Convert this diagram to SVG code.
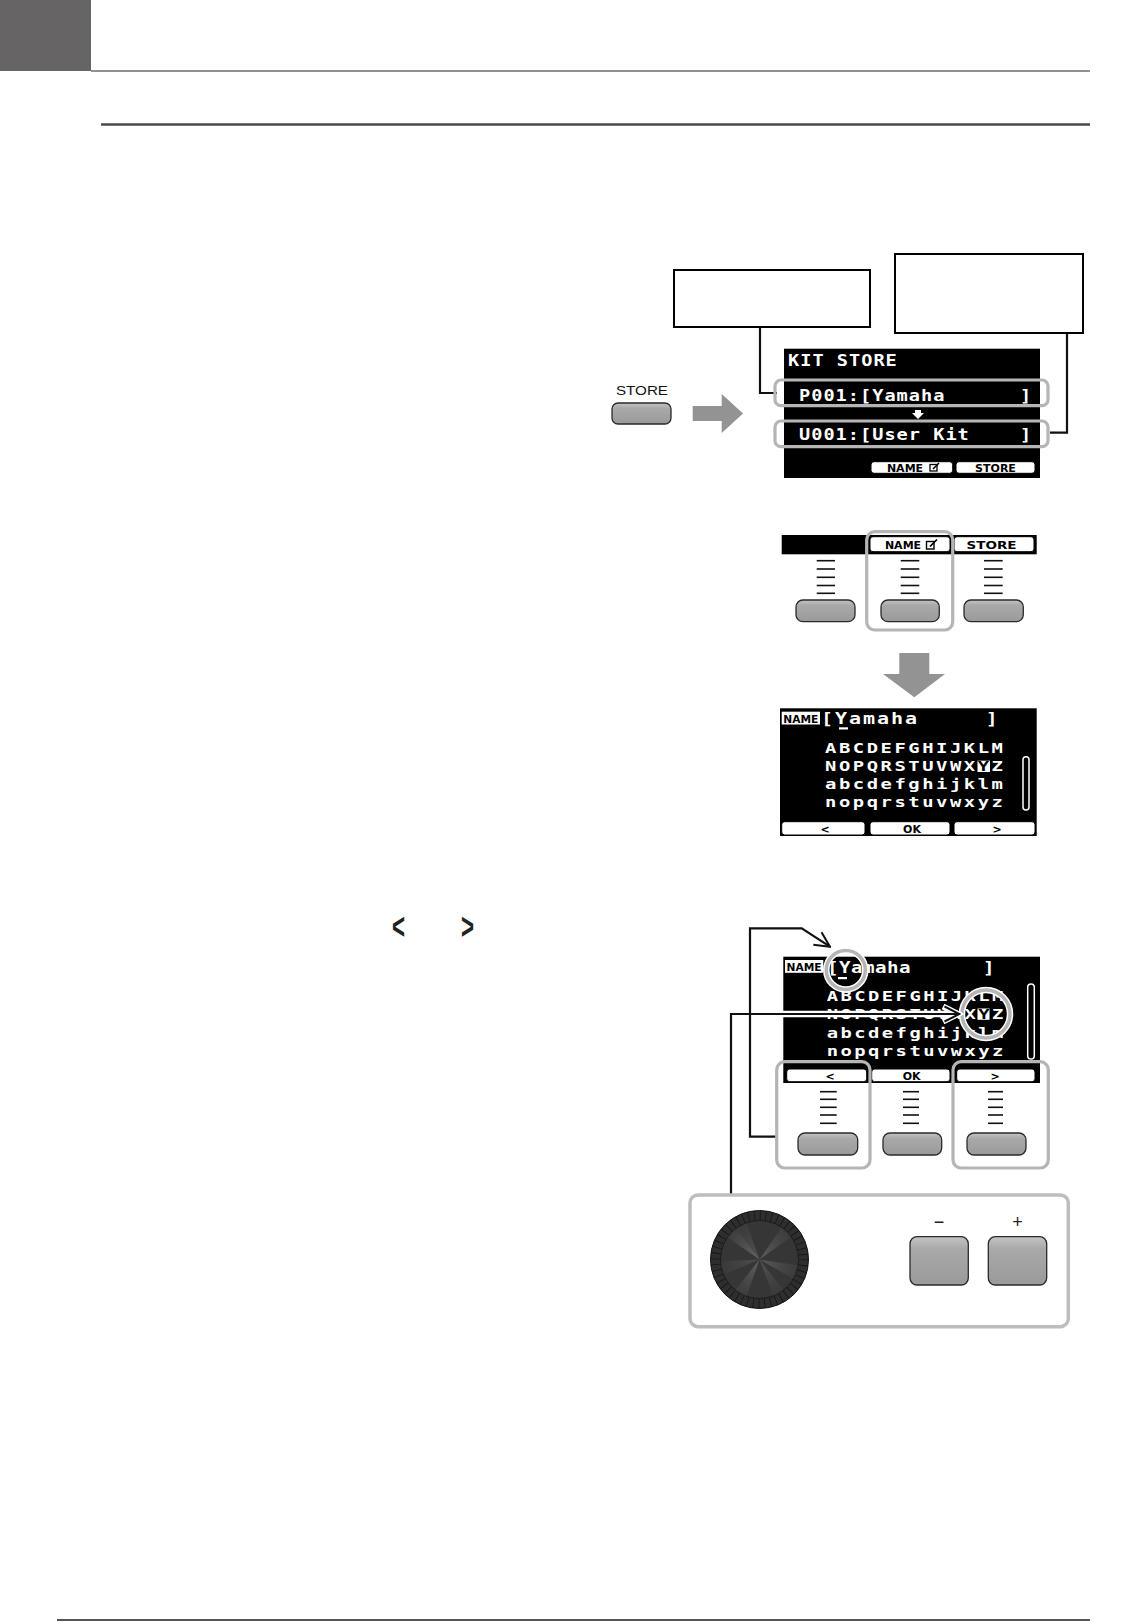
<svg xmlns="http://www.w3.org/2000/svg" width="1134" height="1622" viewBox="0 0 1134 1622">
<defs>
<style>
.lcd{font-family:"DejaVu Sans Mono","Liberation Mono",monospace;fill:#fff;font-weight:bold;}
.tab{fill:#fff;stroke:#000;stroke-width:1;}
.tabt{font-family:"DejaVu Sans","Liberation Sans",sans-serif;font-weight:bold;font-size:11px;fill:#000;text-anchor:middle;}
.hl{fill:none;stroke:#b5b5b5;stroke-width:3.2;}
.btn{fill:url(#btng);stroke:#2a2a2a;stroke-width:1.3;}
.tick{stroke:#111;stroke-width:1.6;}
.conn{fill:none;stroke:#111;stroke-width:2.2;}
.box{fill:#fff;stroke:#000;stroke-width:2;}
.garrow{fill:#939393;}
.scr{fill:#000;}
</style>
<linearGradient id="btng" x1="0" y1="0" x2="0" y2="1">
<stop offset="0" stop-color="#c4c4c4"/>
<stop offset="0.25" stop-color="#a9a9a9"/>
<stop offset="1" stop-color="#9a9a9a"/>
</linearGradient>
<radialGradient id="wedge" cx="759.5" cy="1259.5" r="39" gradientUnits="userSpaceOnUse">
<stop offset="0" stop-color="#aaa" stop-opacity="0.7"/>
<stop offset="1" stop-color="#888" stop-opacity="0.15"/>
</radialGradient>
<clipPath id="dialclip"><circle cx="759.5" cy="1259.5" r="39"/></clipPath>
<marker id="chev" viewBox="0 0 18 18" refX="16.5" refY="9" markerWidth="18" markerHeight="18" markerUnits="userSpaceOnUse" orient="auto">
<path d="M1.5,1.5 L16.5,9 L1.5,16.5" fill="none" stroke="#111" stroke-width="2"/>
</marker>
</defs>
<rect width="1134" height="1622" fill="#fff"/>

<g id="page-header">
<rect x="0" y="0" width="91" height="71" fill="#666464"/>
<line x1="91" y1="71" x2="1090" y2="71" stroke="#6b6b6b" stroke-width="1.5"/>
<line x1="101" y1="124.5" x2="1090" y2="124.5" stroke="#4a4a4a" stroke-width="2.5"/>
<line x1="57" y1="1620" x2="1090" y2="1620" stroke="#555" stroke-width="1.8"/>
</g>

<g id="chevrons-text">
<text x="0" y="0" transform="translate(392,939) scale(0.62,1)" font-family="Liberation Sans,Arial,sans-serif" font-weight="bold" font-size="36" fill="#222">&lt;</text>
<text x="0" y="0" transform="translate(461,939) scale(0.62,1)" font-family="Liberation Sans,Arial,sans-serif" font-weight="bold" font-size="36" fill="#222">&gt;</text>
</g>

<g id="connectors">
<path class="conn" d="M760,327 V393 H777"/>
<path class="conn" d="M1067,333 V432.7 H1050"/>
<path class="conn" d="M776.7,1136.7 H750 V928.3 H801.7 L830,946.7" marker-end="url(#chev)"/>
</g>

<g id="callout-box-1"><rect class="box" x="674" y="270" width="196" height="57"/></g>
<g id="callout-box-2"><rect class="box" x="895" y="254" width="188" height="79"/></g>

<g id="store-button">
<text x="642" y="395" font-family="Liberation Sans,Arial,sans-serif" font-size="13" text-anchor="middle" fill="#111" textLength="52" lengthAdjust="spacingAndGlyphs">STORE</text>
<rect class="btn" x="612" y="403" width="59" height="21" rx="6"/>
</g>

<g id="arrow-right">
<polygon class="garrow" points="692.7,406 721.7,406 721.7,394 743,413.5 721.7,433 721.7,421 692.7,421"/>
</g>

<g id="screen-kit-store">
<rect class="scr" x="784" y="348.7" width="256" height="129.3"/>
<text class="lcd" x="0" y="0" transform="translate(788,366) scale(1.2,1)" font-size="15.5" letter-spacing="0.84">KIT STORE</text>
<text class="lcd" x="0" y="0" transform="translate(799,401) scale(1.2,1)" font-size="15.5" letter-spacing="0.84">P001:[Yamaha</text>
<text class="lcd" x="0" y="0" transform="translate(1020,401) scale(1.2,1)" font-size="15.5">]</text>
<polygon points="915,410 921,410 921,413 924,413 918,419 912,413 915,413" fill="#fff"/>
<text class="lcd" x="0" y="0" transform="translate(799,440) scale(1.2,1)" font-size="15.5" letter-spacing="0.84">U001:[User Kit</text>
<text class="lcd" x="0" y="0" transform="translate(1020,440) scale(1.2,1)" font-size="15.5">]</text>
<rect class="tab" x="871" y="461.7" width="81.7" height="11.6" rx="3"/>
<text class="tabt" x="905" y="471.6" font-size="10.5">NAME</text>
<rect x="930" y="464.5" width="7" height="6.5" fill="none" stroke="#000" stroke-width="1.3"/>
<line x1="933" y1="469" x2="939" y2="463" stroke="#000" stroke-width="1.6"/>
<rect class="tab" x="956" y="461.7" width="79" height="11.6" rx="3"/>
<text class="tabt" x="995.5" y="471.6" font-size="10.5">STORE</text>
<rect class="hl" x="775" y="380" width="273" height="25.7" rx="6"/>
<rect class="hl" x="775" y="421" width="273" height="25.7" rx="6"/>
</g>

<g id="softkeys-1">
<rect class="scr" x="781.7" y="535" width="255" height="19.3"/>
<rect class="tab" x="870" y="536.7" width="80" height="15" rx="3"/>
<text class="tabt" x="903" y="548.6" font-size="11.5">NAME</text>
<rect x="926.5" y="541.5" width="7.5" height="7.5" fill="none" stroke="#000" stroke-width="1.4"/>
<line x1="930" y1="546.5" x2="937" y2="539.5" stroke="#000" stroke-width="1.7"/>
<rect class="tab" x="954" y="536.7" width="80" height="15" rx="3"/>
<text class="tabt" x="991.5" y="548.6" font-size="11.5" textLength="50" lengthAdjust="spacingAndGlyphs">STORE</text>
<g>
<line class="tick" x1="816.7" y1="560.7" x2="835" y2="560.7"/><line class="tick" x1="816.7" y1="569" x2="835" y2="569"/><line class="tick" x1="816.7" y1="577.3" x2="835" y2="577.3"/><line class="tick" x1="816.7" y1="585.5" x2="835" y2="585.5"/><line class="tick" x1="816.7" y1="593.3" x2="835" y2="593.3"/>
<line class="tick" x1="900.7" y1="560.7" x2="919.3" y2="560.7"/><line class="tick" x1="900.7" y1="569" x2="919.3" y2="569"/><line class="tick" x1="900.7" y1="577.3" x2="919.3" y2="577.3"/><line class="tick" x1="900.7" y1="585.5" x2="919.3" y2="585.5"/><line class="tick" x1="900.7" y1="593.3" x2="919.3" y2="593.3"/>
<line class="tick" x1="984" y1="560.7" x2="1002.7" y2="560.7"/><line class="tick" x1="984" y1="569" x2="1002.7" y2="569"/><line class="tick" x1="984" y1="577.3" x2="1002.7" y2="577.3"/><line class="tick" x1="984" y1="585.5" x2="1002.7" y2="585.5"/><line class="tick" x1="984" y1="593.3" x2="1002.7" y2="593.3"/>
</g>
<rect class="btn" x="796" y="600" width="59" height="21.7" rx="7"/>
<rect class="btn" x="881" y="600" width="58.3" height="21.7" rx="7"/>
<rect class="btn" x="964" y="600" width="59.3" height="21.7" rx="7"/>
<rect class="hl" x="866.7" y="531.7" width="86" height="98.3" rx="8"/>
</g>

<g id="arrow-down">
<polygon class="garrow" points="899.3,653 929.3,653 929.3,674 945,674 914.3,697.3 883,674 899.3,674"/>
</g>

<g id="screen-name">
<rect class="scr" x="780" y="708.3" width="256.7" height="127.7"/>
<rect x="781.7" y="711.7" width="38.3" height="12.8" fill="#fff"/>
<text x="800.8" y="722.6" font-family="DejaVu Sans,Liberation Sans,sans-serif" font-weight="bold" font-size="10" text-anchor="middle" fill="#000" textLength="35" lengthAdjust="spacingAndGlyphs">NAME</text>
<text class="lcd" x="0" y="0" transform="translate(821,724) scale(1.25,1)" font-size="16" letter-spacing="1.57">[Yamaha</text>
<rect x="839" y="727.3" width="9" height="2.2" fill="#fff"/>
<text class="lcd" x="0" y="0" transform="translate(986,724) scale(1.2,1)" font-size="16">]</text>
<rect x="977.5" y="760.7" width="12.5" height="11.3" fill="#fff"/>
<g transform="translate(825,0) scale(1.3,1)">
<text class="lcd" x="0" y="753.3" font-size="14.5" letter-spacing="1.96">ABCDEFGHIJKLM</text>
<text class="lcd" x="0" y="771.3" font-size="14.5" letter-spacing="1.96">NOPQRSTUVWX<tspan fill="#000">Y</tspan>Z</text>
<text class="lcd" x="0" y="789" font-size="14.5" letter-spacing="1.96">abcdefghijklm</text>
<text class="lcd" x="0" y="807" font-size="14.5" letter-spacing="1.96">nopqrstuvwxyz</text>
</g>
<rect x="1023" y="756.7" width="6" height="53.3" rx="3" fill="none" stroke="#fff" stroke-width="1.5"/>
<rect class="tab" x="781.7" y="821.7" width="83.3" height="13.3" rx="3"/>
<text class="tabt" x="825" y="832.5" font-size="12">&lt;</text>
<rect class="tab" x="870" y="821.7" width="80" height="13.3" rx="3"/>
<text class="tabt" x="912" y="832.5" font-size="11">OK</text>
<rect class="tab" x="954" y="821.7" width="81" height="13.3" rx="3"/>
<text class="tabt" x="997" y="832.5" font-size="12">&gt;</text>
</g>

<g id="screen-edit">
<rect class="scr" x="783.3" y="956.7" width="256.7" height="126.3"/>
<rect x="785" y="960" width="38.3" height="12.8" fill="#fff"/>
<text x="804" y="970.9" font-family="DejaVu Sans,Liberation Sans,sans-serif" font-weight="bold" font-size="10" text-anchor="middle" fill="#000" textLength="35" lengthAdjust="spacingAndGlyphs">NAME</text>
<text class="lcd" x="0" y="0" transform="translate(827,973.3) scale(1.2,1)" font-size="16" letter-spacing="0.37">[Yamaha</text>
<rect x="838" y="977" width="9" height="2.2" fill="#fff"/>
<text class="lcd" x="0" y="0" transform="translate(983,973.3) scale(1.2,1)" font-size="16">]</text>
<rect x="977.5" y="1008.5" width="12" height="11.3" fill="#fff"/>
<g transform="translate(826.7,0) scale(1.3,1)">
<text class="lcd" x="0" y="1001.5" font-size="14.5" letter-spacing="1.88">ABCDEFGHIJKLM</text>
<text class="lcd" x="0" y="1019.5" font-size="14.5" letter-spacing="1.88">NOPQRSTUVWX<tspan fill="#000">Y</tspan>Z</text>
<text class="lcd" x="0" y="1038" font-size="14.5" letter-spacing="1.88">abcdefghijklm</text>
<text class="lcd" x="0" y="1056.5" font-size="14.5" letter-spacing="1.88">nopqrstuvwxyz</text>
</g>
<rect x="1027.7" y="984" width="6.6" height="75" rx="3.3" fill="none" stroke="#fff" stroke-width="1.5"/>
<rect class="tab" x="786.7" y="1069" width="80" height="12.7" rx="3"/>
<text class="tabt" x="830" y="1079.6" font-size="12">&lt;</text>
<rect class="tab" x="871.7" y="1069" width="78.3" height="12.7" rx="3"/>
<text class="tabt" x="911.7" y="1079.6" font-size="11">OK</text>
<rect class="tab" x="956.7" y="1069" width="78.3" height="12.7" rx="3"/>
<text class="tabt" x="995" y="1079.6" font-size="12">&gt;</text>
<g>
<line class="tick" x1="820" y1="1091.7" x2="836.7" y2="1091.7"/><line class="tick" x1="820" y1="1099.3" x2="836.7" y2="1099.3"/><line class="tick" x1="820" y1="1107.3" x2="836.7" y2="1107.3"/><line class="tick" x1="820" y1="1115" x2="836.7" y2="1115"/><line class="tick" x1="820" y1="1123.3" x2="836.7" y2="1123.3"/>
<line class="tick" x1="903" y1="1091.7" x2="919" y2="1091.7"/><line class="tick" x1="903" y1="1099.3" x2="919" y2="1099.3"/><line class="tick" x1="903" y1="1107.3" x2="919" y2="1107.3"/><line class="tick" x1="903" y1="1115" x2="919" y2="1115"/><line class="tick" x1="903" y1="1123.3" x2="919" y2="1123.3"/>
<line class="tick" x1="988" y1="1091.7" x2="1003" y2="1091.7"/><line class="tick" x1="988" y1="1099.3" x2="1003" y2="1099.3"/><line class="tick" x1="988" y1="1107.3" x2="1003" y2="1107.3"/><line class="tick" x1="988" y1="1115" x2="1003" y2="1115"/><line class="tick" x1="988" y1="1123.3" x2="1003" y2="1123.3"/>
</g>
<rect class="btn" x="798" y="1133" width="59.7" height="22" rx="7"/>
<rect class="btn" x="883" y="1133" width="58.7" height="22" rx="7"/>
<rect class="btn" x="967" y="1133" width="59" height="22" rx="7"/>
<rect class="hl" x="776.7" y="1061.7" width="93.3" height="106.3" rx="8"/>
<rect class="hl" x="953" y="1061.7" width="95.3" height="106.3" rx="8"/>
<circle cx="845.8" cy="970" r="19.5" fill="none" stroke="#fff" stroke-width="6.5"/>
<circle cx="845.8" cy="970" r="19.5" fill="none" stroke="#b5b5b5" stroke-width="3.5"/>
<circle cx="986" cy="1014" r="24" fill="none" stroke="#fff" stroke-width="6.5"/>
<circle cx="986" cy="1014" r="24" fill="none" stroke="#b5b5b5" stroke-width="3.5"/>
</g>

<g id="connector-dial">
<path d="M783,1014 H958" fill="none" stroke="#fff" stroke-width="6.5"/>
<path d="M943,1006.5 L958,1014 L943,1021.5" fill="none" stroke="#fff" stroke-width="6"/>
<path class="conn" d="M731,1195 V1014 H959.5" marker-end="url(#chev)"/>
</g>

<g id="dial-panel">
<rect x="690" y="1195" width="378.3" height="131.7" rx="8" fill="none" stroke="#bdbdbd" stroke-width="3.5"/>
<circle cx="759.5" cy="1259.5" r="49" fill="#2e2e2e" stroke="#111" stroke-width="1"/>
<circle cx="759.5" cy="1259.5" r="44" fill="none" stroke="#111" stroke-width="10" stroke-dasharray="0.7 5.06"/>
<circle cx="759.5" cy="1259.5" r="39" fill="#363636" stroke="#1c1c1c" stroke-width="1"/>
<g clip-path="url(#dialclip)" fill="url(#wedge)">
<polygon points="759.5,1259.5 705,1222 722,1210" opacity="0.6"/>
<polygon points="759.5,1259.5 722,1210 740,1204" opacity="0.35"/>
<polygon points="759.5,1259.5 795,1208 812,1222" opacity="0.5"/>
<polygon points="759.5,1259.5 815,1268 810,1288" opacity="0.45"/>
<polygon points="759.5,1259.5 740,1315 722,1307" opacity="0.55"/>
<polygon points="759.5,1259.5 703,1262 706,1282" opacity="0.3"/>
<polygon points="759.5,1259.5 780,1314 795,1305" opacity="0.35"/>
</g>
<text x="939" y="1228" font-family="Liberation Sans,Arial,sans-serif" font-size="18" text-anchor="middle" fill="#222">−</text>
<text x="1017.5" y="1228" font-family="Liberation Sans,Arial,sans-serif" font-size="18" text-anchor="middle" fill="#222">+</text>
<rect class="btn" x="910" y="1236.7" width="58.3" height="48.3" rx="7"/>
<rect class="btn" x="988.3" y="1236.7" width="58.4" height="48.3" rx="7"/>
</g>
</svg>
